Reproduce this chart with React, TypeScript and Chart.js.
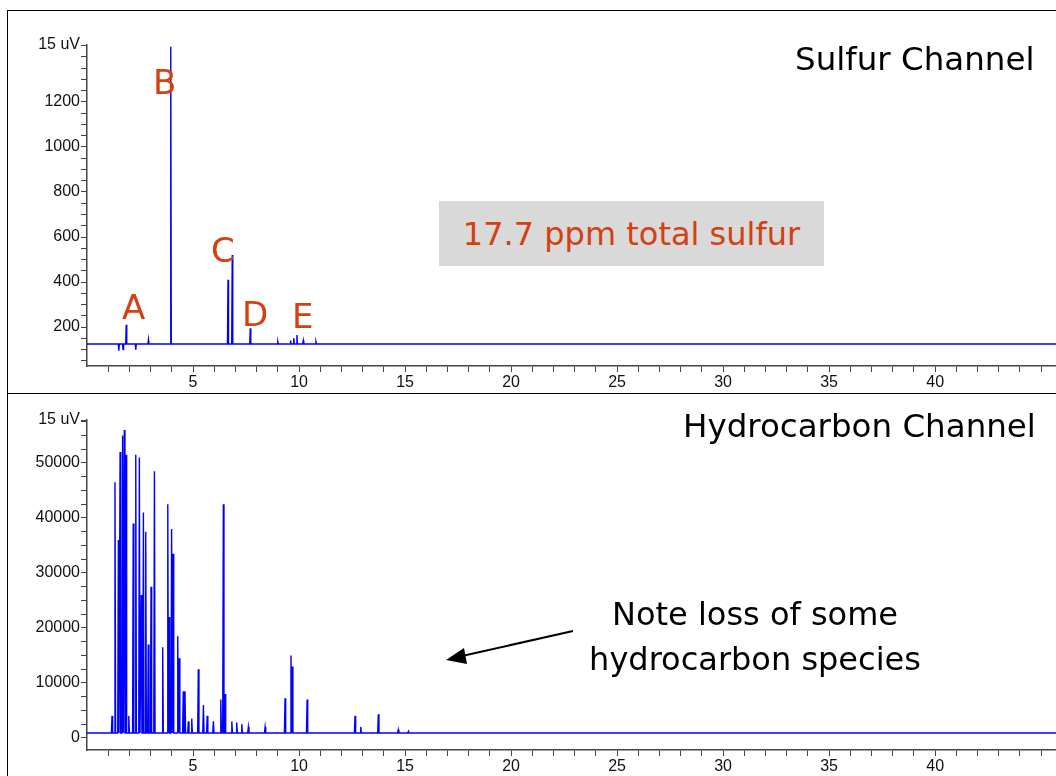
import React, { useEffect, useRef } from "react";
import { Chart, registerables } from "chart.js";
Chart.register(...registerables);

const sulfurBaseline = 125;
const sulfurTimes = [1.5, 1.7, 1.85, 2.3, 2.9, 3.95, 6.65, 6.85, 7.7, 9.0, 9.6, 9.75, 9.9, 10.2, 10.8];
const sulfurHeights = [95, 100, 210, 100, 145, 1445, 410, 520, 195, 135, 140, 150, 165, 140, 135];

const hcBaseline = 900;
const hcTimes = [1.18, 1.32, 1.48, 1.56, 1.68, 1.76, 1.84, 1.97, 2.18, 2.3, 2.47, 2.56, 2.66, 2.77, 2.89, 3.02, 3.18, 3.57, 3.81, 3.87, 3.99, 4.06, 4.28, 4.35, 4.54, 4.62, 4.78, 4.94, 5.25, 5.49, 5.67, 5.96, 6.31, 6.43, 6.51, 6.83, 7.06, 7.3, 7.61, 8.4, 9.34, 9.62, 9.68, 10.38, 12.64, 12.91, 13.74, 14.68, 15.16];
const hcHeights = [4000, 46500, 36000, 52000, 55000, 56000, 51500, 4000, 39000, 51500, 51000, 26000, 41000, 37500, 17000, 27500, 48500, 16500, 42500, 22000, 38000, 33500, 18500, 14500, 8500, 8500, 3000, 3500, 12500, 6000, 4000, 3000, 7000, 42500, 8000, 3000, 2800, 2500, 2000, 2000, 7200, 15000, 13000, 7000, 4000, 2000, 4300, 1500, 1200];

const xMax = 45.7;

function buildTrace(times: number[], heights: number[], base: number, w: number) {
  const pts: { x: number; y: number }[] = [{ x: 0, y: base }];
  times.forEach((t, i) => {
    pts.push({ x: t - w, y: base });
    pts.push({ x: t, y: heights[i] });
    pts.push({ x: t + w, y: base });
  });
  pts.push({ x: xMax, y: base });
  return pts;
}

function makeChart(
  canvas: HTMLCanvasElement,
  data: { x: number; y: number }[],
  yMin: number,
  yMax: number,
  yStep: number,
  labelStep: number,
  labelMax: number,
  padTop: number,
  xHeight: number
) {
  return new Chart(canvas, {
    type: "line",
    data: { datasets: [{ data, borderColor: "#0000ff", borderWidth: 1.4, pointRadius: 0, tension: 0 }] },
    options: {
      animation: false,
      responsive: false,
      maintainAspectRatio: false,
      layout: { padding: { top: padTop, left: 0, right: 0, bottom: 0 } },
      plugins: { legend: { display: false }, tooltip: { enabled: false } },
      scales: {
        x: {
          type: "linear",
          min: 0,
          max: xMax,
          afterBuildTicks: (s: any) => {
            const t = [];
            for (let i = 1; i <= 45; i++) t.push({ value: i });
            s.ticks = t;
          },
          afterFit: (s: any) => { s.height = xHeight; },
          ticks: {
            autoSkip: false,
            maxRotation: 0,
            padding: 1,
            color: "#111",
            font: { family: "Liberation Sans", size: 16 },
            callback: (v: any) => (v % 5 === 0 && v <= 40 ? String(v) : ""),
          },
          grid: { drawOnChartArea: false, tickLength: 6, color: "#444" },
          border: { color: "#444", width: 1.5 },
        },
        y: {
          type: "linear",
          min: yMin,
          max: yMax,
          afterBuildTicks: (s: any) => {
            const t = [];
            for (let v = Math.ceil(yMin / yStep) * yStep; v <= yMax; v += yStep) t.push({ value: v });
            t.push({ value: yMax });
            s.ticks = t;
          },
          afterFit: (s: any) => { s.width = 80; },
          ticks: {
            autoSkip: false,
            padding: 1,
            color: "#111",
            font: { family: "Liberation Sans", size: 16 },
            callback: (v: any) => (v === yMax ? "15 uV" : v % labelStep === 0 && v <= labelMax && v >= 0 ? String(v) : ""),
          },
          grid: { drawOnChartArea: false, tickLength: 6, color: "#444" },
          border: { color: "#444", width: 1.5 },
        },
      },
    },
  } as any);
}

const txt = (style: React.CSSProperties): React.CSSProperties => ({
  position: "absolute",
  fontFamily: "DejaVu Sans, Verdana, sans-serif",
  whiteSpace: "nowrap",
  lineHeight: 1,
  ...style,
});

export default function App() {
  const c1 = useRef<HTMLCanvasElement>(null);
  const c2 = useRef<HTMLCanvasElement>(null);
  useEffect(() => {
    document.body.style.margin = "0";
    const a = makeChart(c1.current!, buildTrace(sulfurTimes, sulfurHeights, sulfurBaseline, 0.025), 27, 1453, 50, 200, 1200, 35, 27);
    const b = makeChart(c2.current!, buildTrace(hcTimes, hcHeights, hcBaseline, 0.03), -2200, 57800, 2500, 10000, 50000, 27, 26);
    return () => { a.destroy(); b.destroy(); };
  }, []);
  const orange = "#d4400f";
  return (
    <div style={{ position: "relative", width: 1056, height: 776, overflow: "hidden", background: "#fff" }}>
      <canvas ref={c1} width={1049} height={383} style={{ position: "absolute", left: 7, top: 10 }} />
      <canvas ref={c2} width={1049} height={383} style={{ position: "absolute", left: 7, top: 393 }} />
      <div style={{ position: "absolute", left: 7, top: 10, width: 1, height: 766, background: "#000" }} />
      <div style={{ position: "absolute", left: 7, top: 10, width: 1049, height: 1, background: "#000" }} />
      <div style={{ position: "absolute", left: 7, top: 393, width: 1049, height: 1, background: "#000" }} />
      <div style={txt({ left: 795, top: 43, fontSize: 32.5, color: "#000" })}>Sulfur Channel</div>
      <div style={txt({ left: 683, top: 410, fontSize: 32.5, color: "#000" })}>Hydrocarbon Channel</div>
      <div style={txt({ left: 153, top: 65, fontSize: 34, color: orange })}>B</div>
      <div style={txt({ left: 122, top: 290, fontSize: 34, color: orange })}>A</div>
      <div style={txt({ left: 211, top: 233, fontSize: 34, color: orange })}>C</div>
      <div style={txt({ left: 242, top: 297, fontSize: 34, color: orange })}>D</div>
      <div style={txt({ left: 292, top: 299, fontSize: 34, color: orange })}>E</div>
      <div style={{ position: "absolute", left: 439, top: 201, width: 385, height: 65, background: "#d9d9d9", display: "flex", alignItems: "center", justifyContent: "center" }}>
        <span style={{ fontFamily: "DejaVu Sans, Verdana, sans-serif", fontSize: 32, color: orange, whiteSpace: "nowrap" }}>17.7 ppm total sulfur</span>
      </div>
      <div style={txt({ left: 570, top: 592, width: 370, textAlign: "center", fontSize: 32, color: "#000", lineHeight: "45px" })}>
        Note loss of some<br />hydrocarbon species
      </div>
      <svg width={1056} height={776} style={{ position: "absolute", left: 0, top: 0, pointerEvents: "none" }}>
        <line x1={573} y1={631} x2={462} y2={656} stroke="#000" strokeWidth={2} />
        <polygon points="446,660 464,648 467,664" fill="#000" />
      </svg>
    </div>
  );
}
